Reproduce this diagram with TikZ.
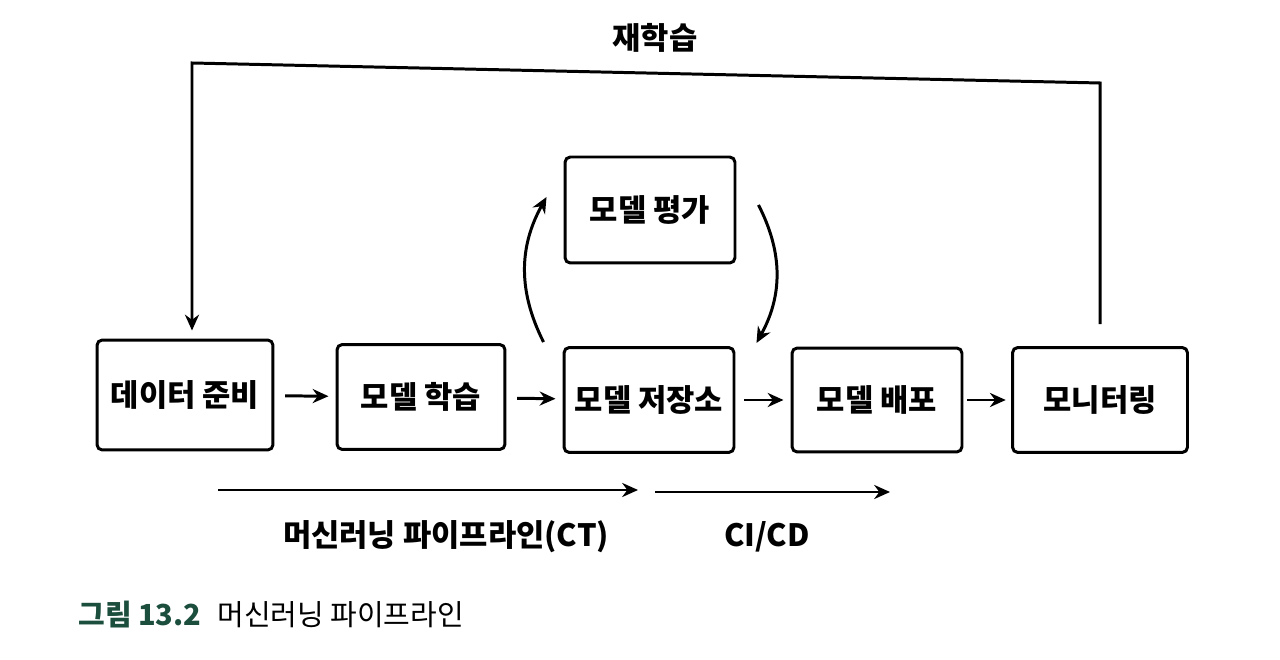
\documentclass[tikz,border=0pt]{standalone}
\usepackage{fontspec}
\setmainfont{Noto Sans CJK KR}
\usepackage{tikz}
\usetikzlibrary{positioning}
\usetikzlibrary{calc}
\usetikzlibrary{arrows.meta}
\definecolor{captiongreen}{RGB}{28,78,62}

\begin{document}
\begin{tikzpicture}[x=0.02cm,y=0.02cm,
    stagebox/.style={draw, line width=1.7pt, rounded corners=3pt, inner sep=0pt,
      font=\bfseries\fontsize{17.5}{20}\selectfont},
    flow/.style={-{Stealth[length=9pt,width=8pt]}, line width=1.7pt},
    steplabel/.style={font=\bfseries\fontsize{17.5}{20}\selectfont}]
  \useasboundingbox (0,0) rectangle (1280,659);
  % stages
  \node[stagebox, minimum width=3.52cm, minimum height=2.2cm] (prep) at (185,264) {데이터 준비};
  \node[stagebox, minimum width=3.36cm, minimum height=2.1cm] (train) at (421,262) {모델 학습};
  \node[stagebox, minimum width=3.4cm, minimum height=2.1cm] (store) at (649,259) {모델 저장소};
  \node[stagebox, minimum width=3.4cm, minimum height=2.12cm] (eval) at (650,449) {모델 평가};
  \node[stagebox, minimum width=3.4cm, minimum height=2.08cm] (deploy) at (877,259) {모델 배포};
  \node[stagebox, minimum width=3.5cm, minimum height=2.1cm] (monitor) at (1100,259) {모니터링};
  \draw[flow, shorten <=6pt, shorten >=4pt] (prep) -- (train);
  \draw[flow, shorten <=6pt, shorten >=4pt] (train) -- (store);
  \draw[flow, shorten <=5pt, shorten >=4pt] (store) -- (deploy);
  \draw[flow, shorten <=2pt, shorten >=3pt] (deploy) -- (monitor);
  % evaluation loop
  \draw[flow] ($(store.north west)+(-19,4)$) to[bend left=28] ($(eval.west)+(-17,13)$);
  \draw[flow] ($(eval.east)+(22,5)$) to[bend left=28] ($(store.north east)+(21,3)$);
  % retraining
  \coordinate (loopR) at (1100,576);
  \coordinate (loopL) at (192,596);
  \draw[flow] ($(monitor.north)+(0,22)$) -- (loopR) -- (loopL) -- ($(prep.north)+(7,8)$);
  \node[steplabel] (retrain) at (655,621) {재학습};
  % pipelines
  \coordinate (ctS) at (218,169);
  \coordinate (ctE) at (638,169);
  \coordinate (ciS) at (655,167);
  \coordinate (ciE) at (890,167);
  \draw[flow] (ctS) -- (ctE);
  \draw[flow] (ciS) -- (ciE);
  \node[steplabel] (ctlabel) at (446,122) {머신러닝 파이프라인(CT)};
  \node[steplabel] (cilabel) at (767,122) {CI/CD};
  % caption
  \node[anchor=base west, inner sep=0pt, font=\bfseries\fontsize{16.5}{19}\selectfont,
    text=captiongreen] (fignum) at (78,34) {그림 13.2};
  \node[anchor=base west, inner sep=0pt, font=\fontsize{16.5}{19}\selectfont] (figtitle) at (217,34) {머신러닝 파이프라인};
\end{tikzpicture}
\end{document}
